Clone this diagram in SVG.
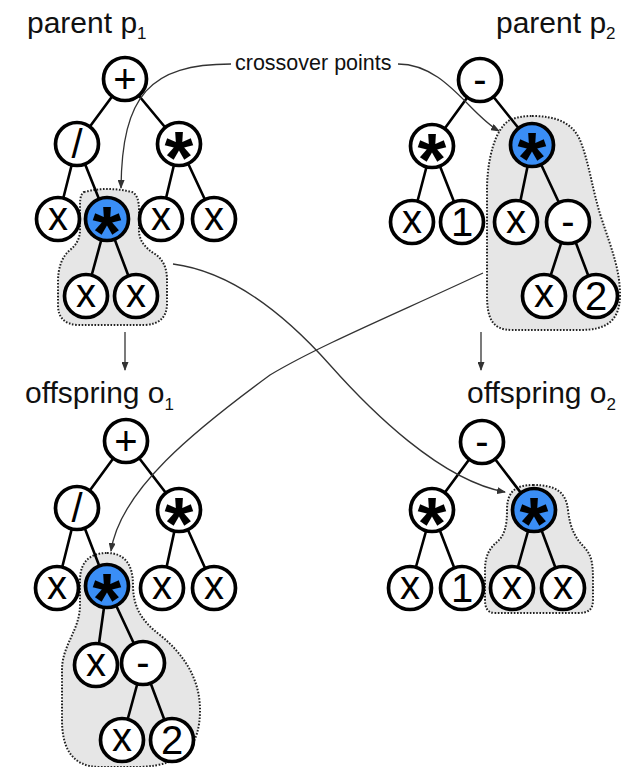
<svg xmlns="http://www.w3.org/2000/svg" width="627" height="767" viewBox="0 0 627 767">
  <style>
    .title { font-family: "Liberation Sans", Arial, sans-serif; font-size: 30px; fill: #111; }
    .sub { font-family: "Liberation Sans", Arial, sans-serif; font-size: 17px; fill: #111; }
    .note { font-family: "Liberation Sans", Arial, sans-serif; font-size: 21.5px; fill: #111; }
    .blob { fill: #e6e6e6; stroke: #222; stroke-width: 2; stroke-dasharray: 1.6 1.6; }
    .edge { stroke: #000; stroke-width: 2.6; fill: none; }
    .node circle { fill: #fff; stroke: #000; stroke-width: 3.7; }
    .node.hl circle { fill: #3a8ef6; }
    .node text { font-family: "Liberation Sans", Arial, sans-serif; font-size: 40px; text-anchor: middle; fill: #000; }
    .node text.ast { font-weight: bold; font-size: 74px; }
    .conn { stroke: #333; stroke-width: 1.3; fill: none; marker-end: url(#arr); }
  </style>
  <defs>
    <marker id="arr" markerUnits="userSpaceOnUse" markerWidth="9" markerHeight="7" refX="8" refY="3.5" orient="auto">
      <path d="M0,0 L9,3.5 L0,7 Z" fill="#333"/>
    </marker>
  </defs>

  <rect width="627" height="767" fill="#fff"/>

  <!-- headings -->
  <text class="title" x="27" y="33">parent p<tspan class="sub" dy="6">1</tspan></text>
  <text class="title" x="496" y="33">parent p<tspan class="sub" dy="6">2</tspan></text>
  <text class="title" x="25" y="403">offspring o<tspan class="sub" dy="7">1</tspan></text>
  <text class="title" x="467" y="403">offspring o<tspan class="sub" dy="7">2</tspan></text>
  <text class="note" x="235" y="70">crossover points</text>

  <!-- swapped subtrees -->
  <g id="subtrees">
    <path class="blob" d="M84,192 Q107,186 132,192 Q139,195 139,210 L139,232 Q140,245 155,254 Q167,262 167,280 L167,305 Q166,324 145,325 L78,325 Q58,324 58,305 L58,282 Q58,260 70,250 Q80,242 80,230 L80,205 Q80,194 84,192 Z"/>
    <path class="blob" d="M532,116 C555,116 572,122 580,140 C590,165 592,190 602,220 C612,250 620,270 620,295 C620,322 605,330 580,330 L512,330 C492,330 487,318 487,295 L487,190 C487,160 495,128 510,120 C517,117 524,116 532,116 Z"/>
    <path class="blob" d="M107,553 C125,553 133,565 133,585 C133,605 140,620 160,635 C185,655 200,680 200,710 C200,745 185,765 140,767 L100,767 C70,767 62,745 62,720 L62,670 C62,645 80,630 80,605 L80,580 C80,562 90,553 107,553 Z"/>
    <path class="blob" d="M533,485 C556,485 566,492 568,510 C570,528 575,538 585,548 C592,556 593,565 593,580 L593,600 C593,610 588,613 578,613 L495,613 C487,613 485,607 485,600 L485,570 C485,555 490,548 497,542 C505,535 507,525 507,510 C507,492 515,485 533,485 Z"/>
  </g>

  <!-- tree edges -->
  <g id="edges">
    <!-- parent p1 -->
    <path class="edge" d="M125,79 L77,144 M125,79 L179,144 M77,144 L58,219 M77,144 L107,219 M179,144 L161,219 M179,144 L214,219 M107,219 L86,296 M107,219 L136,296"/>
    <!-- parent p2 -->
    <path class="edge" d="M480,80 L432,146 M480,80 L532,145 M432,146 L412,222 M432,146 L462,222 M532,145 L516,222 M532,145 L568,222 M568,222 L544,296 M568,222 L596,296"/>
    <!-- offspring o1 -->
    <path class="edge" d="M126,441 L77,508 M126,441 L179,510 M77,508 L57,588 M77,508 L107,586 M179,510 L162,588 M179,510 L214,588 M107,586 L96,665 M107,586 L143,663 M143,663 L122,740 M143,663 L172,740"/>
    <!-- offspring o2 -->
    <path class="edge" d="M482,442 L432,510 M482,442 L534,510 M432,510 L410,588 M432,510 L462,588 M534,510 L512,588 M534,510 L563,588"/>
  </g>

  <!-- connectors -->
  <g id="connectors">
    <path class="conn" d="M231,64 C150,64 122,95 121,188"/>
    <path class="conn" d="M398,64 C445,64 470,115 499,131"/>
    <path class="conn" d="M125,332 L125,370"/>
    <path class="conn" d="M481,332 L481,370"/>
    <path class="conn" d="M173,264 C235,272 290,320 330,365 S440,480 505,492"/>
    <path class="conn" d="M483,273 C400,312 320,345 270,375 C195,430 120,490 111,551"/>
  </g>

  <!-- parent p1 nodes -->
  <g id="p1-plus" class="node"><circle cx="125" cy="79" r="21.5"/><text x="125" y="93">+</text></g>
  <g id="p1-div" class="node"><circle cx="77" cy="144" r="21.5"/><text x="77" y="158">/</text></g>
  <g id="p1-mul" class="node"><circle cx="179" cy="144" r="21.5"/><text class="ast" x="179" y="183">*</text></g>
  <g id="p1-x1" class="node"><circle cx="58" cy="219" r="21.5"/><text x="58" y="230">x</text></g>
  <g id="p1-cut" class="node hl"><circle cx="107" cy="219" r="21.5"/><text class="ast" x="107" y="258">*</text></g>
  <g id="p1-x2" class="node"><circle cx="161" cy="219" r="21.5"/><text x="161" y="230">x</text></g>
  <g id="p1-x3" class="node"><circle cx="214" cy="219" r="21.5"/><text x="214" y="230">x</text></g>
  <g id="p1-x4" class="node"><circle cx="86" cy="296" r="21.5"/><text x="86" y="307">x</text></g>
  <g id="p1-x5" class="node"><circle cx="136" cy="296" r="21.5"/><text x="136" y="307">x</text></g>

  <!-- parent p2 nodes -->
  <g id="p2-minus" class="node"><circle cx="480" cy="80" r="21.5"/><text x="480" y="93">-</text></g>
  <g id="p2-mul" class="node"><circle cx="432" cy="146" r="21.5"/><text class="ast" x="432" y="185">*</text></g>
  <g id="p2-cut" class="node hl"><circle cx="532" cy="145" r="21.5"/><text class="ast" x="532" y="184">*</text></g>
  <g id="p2-x1" class="node"><circle cx="412" cy="222" r="21.5"/><text x="412" y="233">x</text></g>
  <g id="p2-one" class="node"><circle cx="462" cy="222" r="21.5"/><text x="462" y="236">1</text></g>
  <g id="p2-x2" class="node"><circle cx="516" cy="222" r="21.5"/><text x="516" y="233">x</text></g>
  <g id="p2-minus2" class="node"><circle cx="568" cy="222" r="21.5"/><text x="568" y="235">-</text></g>
  <g id="p2-x3" class="node"><circle cx="544" cy="296" r="21.5"/><text x="544" y="307">x</text></g>
  <g id="p2-two" class="node"><circle cx="596" cy="296" r="21.5"/><text x="596" y="310">2</text></g>

  <!-- offspring o1 nodes -->
  <g id="o1-plus" class="node"><circle cx="126" cy="441" r="21.5"/><text x="126" y="455">+</text></g>
  <g id="o1-div" class="node"><circle cx="77" cy="508" r="21.5"/><text x="77" y="522">/</text></g>
  <g id="o1-mul" class="node"><circle cx="179" cy="510" r="21.5"/><text class="ast" x="179" y="549">*</text></g>
  <g id="o1-x1" class="node"><circle cx="57" cy="588" r="21.5"/><text x="57" y="599">x</text></g>
  <g id="o1-cut" class="node hl"><circle cx="107" cy="586" r="21.5"/><text class="ast" x="107" y="625">*</text></g>
  <g id="o1-x2" class="node"><circle cx="162" cy="588" r="21.5"/><text x="162" y="599">x</text></g>
  <g id="o1-x3" class="node"><circle cx="214" cy="588" r="21.5"/><text x="214" y="599">x</text></g>
  <g id="o1-x4" class="node"><circle cx="96" cy="665" r="21.5"/><text x="96" y="676">x</text></g>
  <g id="o1-minus" class="node"><circle cx="143" cy="663" r="21.5"/><text x="143" y="676">-</text></g>
  <g id="o1-x5" class="node"><circle cx="122" cy="740" r="21.5"/><text x="122" y="751">x</text></g>
  <g id="o1-two" class="node"><circle cx="172" cy="740" r="21.5"/><text x="172" y="754">2</text></g>

  <!-- offspring o2 nodes -->
  <g id="o2-minus" class="node"><circle cx="482" cy="442" r="21.5"/><text x="482" y="455">-</text></g>
  <g id="o2-mul" class="node"><circle cx="432" cy="510" r="21.5"/><text class="ast" x="432" y="549">*</text></g>
  <g id="o2-cut" class="node hl"><circle cx="534" cy="510" r="21.5"/><text class="ast" x="534" y="549">*</text></g>
  <g id="o2-x1" class="node"><circle cx="410" cy="588" r="21.5"/><text x="410" y="599">x</text></g>
  <g id="o2-one" class="node"><circle cx="462" cy="588" r="21.5"/><text x="462" y="602">1</text></g>
  <g id="o2-x2" class="node"><circle cx="512" cy="588" r="21.5"/><text x="512" y="599">x</text></g>
  <g id="o2-x3" class="node"><circle cx="563" cy="588" r="21.5"/><text x="563" y="599">x</text></g>
</svg>
